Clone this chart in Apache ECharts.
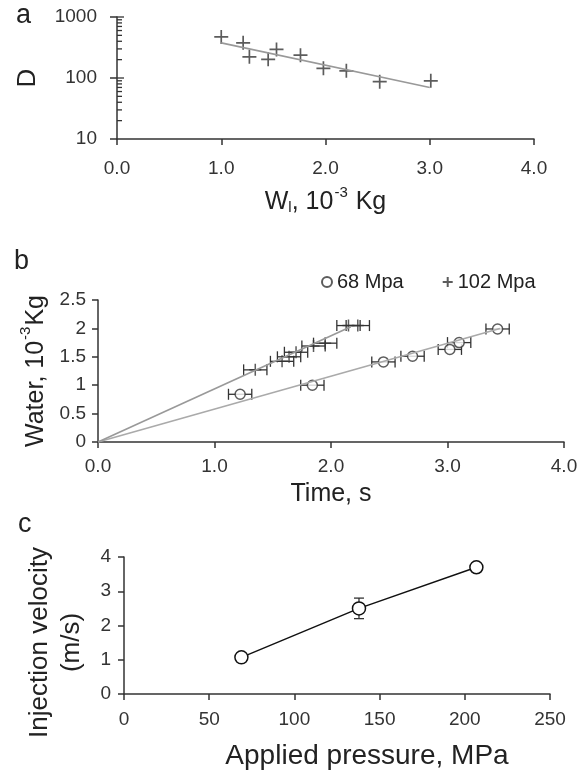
<!DOCTYPE html>
<html>
<head>
<meta charset="utf-8">
<script src="https://cdn.jsdelivr.net/npm/echarts@6/dist/echarts.min.js"></script>
<style>
html, body { margin: 0; padding: 0; background: #fff; }
#main { width: 584px; height: 770px; }
</style>
</head>
<body>
<div id="main"></div>
<script>
// panel a: D vs W_l (log y)
var wA = [1.0, 1.21, 1.27, 1.45, 1.53, 1.76, 1.98, 2.2, 2.52, 3.01];
var dA = [472, 377, 222, 202, 294, 237, 144, 131, 87, 90];
var trendA = [[1.0, 377], [3.0, 70]];
var logTicksA = [20, 30, 40, 50, 60, 70, 80, 90, 100, 200, 300, 400, 500, 600, 700, 800, 900, 1000];

// panel b: water vs time
var time68 = [1.22, 1.84, 2.45, 2.70, 3.02, 3.10, 3.43];
var water68 = [0.84, 1.0, 1.41, 1.51, 1.63, 1.75, 1.99];
var err68 = [0.1, 0.1, 0.1, 0.1, 0.1, 0.1, 0.1];
var time102 = [1.35, 1.58, 1.64, 1.70, 1.85, 1.95, 2.15, 2.23];
var water102 = [1.27, 1.42, 1.50, 1.58, 1.69, 1.74, 2.05, 2.05];
var err102 = [0.1, 0.1, 0.1, 0.1, 0.1, 0.1, 0.1, 0.1];
var trend68 = [[0, 0], [3.45, 2.0]];
var trend102 = [[0, 0], [2.17, 2.03]];

// panel c: velocity vs pressure
var pressureC = [68.9, 137.9, 206.8];
var velocityC = [1.07, 2.5, 3.7];
var errC = [0, 0.3, 0];

var FONT = 'Liberation Sans';
var INK = '#333';
var PLUS = 'path://M6,0L6,12M0,6L12,6';

function pairs(xs, ys) {
  return xs.map(function (x, i) { return [x, ys[i]]; });
}
function triples(xs, ys, es) {
  return xs.map(function (x, i) { return [x, ys[i], es[i]]; });
}

var lineSt = { stroke: INK, lineWidth: 1.3 };

function hErrBar(params, api) {
  var x = api.value(0), y = api.value(1), e = api.value(2);
  var p1 = api.coord([x - e, y]), p2 = api.coord([x + e, y]);
  var h = 5.5;
  return {
    type: 'group',
    children: [
      { type: 'line', shape: { x1: p1[0], y1: p1[1], x2: p2[0], y2: p2[1] }, style: lineSt },
      { type: 'line', shape: { x1: p1[0], y1: p1[1] - h, x2: p1[0], y2: p1[1] + h }, style: lineSt },
      { type: 'line', shape: { x1: p2[0], y1: p2[1] - h, x2: p2[0], y2: p2[1] + h }, style: lineSt }
    ]
  };
}

function vErrBar(params, api) {
  var x = api.value(0), y = api.value(1), e = api.value(2);
  if (!e) return null;
  var p1 = api.coord([x, y - e]), p2 = api.coord([x, y + e]);
  var w = 5;
  return {
    type: 'group',
    children: [
      { type: 'line', shape: { x1: p1[0], y1: p1[1], x2: p2[0], y2: p2[1] }, style: lineSt },
      { type: 'line', shape: { x1: p1[0] - w, y1: p1[1], x2: p1[0] + w, y2: p1[1] }, style: lineSt },
      { type: 'line', shape: { x1: p2[0] - w, y1: p2[1], x2: p2[0] + w, y2: p2[1] }, style: lineSt }
    ]
  };
}

// inward log ticks on panel a y axis
function logTick(params, api) {
  var v = api.value(1);
  var p = api.coord([0, v]);
  var len = (v === 100 || v === 1000) ? 7 : 5;
  return { type: 'line', shape: { x1: p[0], y1: p[1], x2: p[0] + len, y2: p[1] }, style: lineSt };
}

var axisLine = { show: true, lineStyle: { color: INK, width: 1.5 } };
var axisTick = { show: true, length: 6, lineStyle: { color: INK, width: 1.5 } };
var lbl = { color: INK, fontSize: 19, fontFamily: FONT };
var nameSt = {
  color: '#222', fontSize: 25, fontFamily: FONT,
  rich: {
    t: { fontSize: 25, fontFamily: FONT, color: '#222', lineHeight: 30, verticalAlign: 'bottom' },
    sup: { fontSize: 15, fontFamily: FONT, color: '#222', lineHeight: 30, verticalAlign: 'top', padding: [0, 1, 0, 1] },
    sub: { fontSize: 15, fontFamily: FONT, color: '#222', lineHeight: 24, verticalAlign: 'bottom' }
  }
};

var chart = echarts.init(document.getElementById('main'), null, { renderer: 'canvas' });

var option = {
  animation: false,
  textStyle: { fontFamily: FONT },
  graphic: [
    { type: 'text', left: 16, top: 2, style: { text: 'a', fontSize: 27, fontFamily: FONT, fill: '#222' } },
    { type: 'text', left: 14, top: 248, style: { text: 'b', fontSize: 27, fontFamily: FONT, fill: '#222' } },
    { type: 'text', left: 18, top: 511, style: { text: 'c', fontSize: 27, fontFamily: FONT, fill: '#222' } }
  ],
  legend: {
    left: 316, top: 267,
    itemWidth: 10, itemHeight: 10, itemGap: 38,
    textStyle: { fontSize: 20, color: '#222', fontFamily: FONT },
    data: [
      { name: '68 Mpa', icon: 'circle' },
      { name: '102 Mpa', icon: PLUS }
    ]
  },
  grid: [
    { left: 117, top: 17, width: 417, height: 122, outerBoundsMode: 'none' },
    { left: 98, top: 300, width: 466, height: 142, outerBoundsMode: 'none' },
    { left: 124, top: 557, width: 426, height: 137, outerBoundsMode: 'none' }
  ],
  xAxis: [
    {
      gridIndex: 0, type: 'value', min: 0, max: 4, interval: 1,
      axisLine: axisLine, axisTick: axisTick, splitLine: { show: false },
      axisLabel: Object.assign({ margin: 20, formatter: function (v) { return v.toFixed(1); } }, lbl),
      name: '{t|W}{sub|l}{t|, 10}{sup|-3}{t| Kg}', nameLocation: 'middle', nameGap: 46,
      nameTextStyle: nameSt
    },
    {
      gridIndex: 1, type: 'value', min: 0, max: 4, interval: 1,
      axisLine: axisLine, axisTick: axisTick, splitLine: { show: false },
      axisLabel: Object.assign({ margin: 15, formatter: function (v) { return v.toFixed(1); } }, lbl),
      name: 'Time, s', nameLocation: 'middle', nameGap: 40,
      nameTextStyle: nameSt
    },
    {
      gridIndex: 2, type: 'value', min: 0, max: 250, interval: 50,
      axisLine: axisLine, axisTick: axisTick, splitLine: { show: false },
      axisLabel: Object.assign({ margin: 16 }, lbl),
      name: 'Applied pressure, MPa', nameLocation: 'middle', nameGap: 48,
      nameTextStyle: { color: '#222', fontSize: 28, fontFamily: FONT, padding: [0, 0, 0, 60] }
    }
  ],
  yAxis: [
    {
      gridIndex: 0, type: 'log', logBase: 10, min: 10, max: 1000,
      axisLine: axisLine, axisTick: { show: true, length: 7, lineStyle: { color: INK, width: 1.5 } },
      splitLine: { show: false },
      axisLabel: Object.assign({ margin: 20, formatter: function (v) { return String(v); } }, lbl),
      name: 'D', nameLocation: 'middle', nameGap: 76,
      nameTextStyle: { color: '#222', fontSize: 26, fontFamily: FONT }
    },
    {
      gridIndex: 1, type: 'value', min: 0, max: 2.5, interval: 0.5,
      axisLine: axisLine, axisTick: axisTick, splitLine: { show: false },
      axisLabel: Object.assign({ margin: 12 }, lbl),
      name: '{t|Water, 10}{sup|-3}{t|Kg}', nameLocation: 'middle', nameGap: 46,
      nameTextStyle: nameSt
    },
    {
      gridIndex: 2, type: 'value', min: 0, max: 4, interval: 1,
      axisLine: axisLine, axisTick: axisTick, splitLine: { show: false },
      axisLabel: Object.assign({ margin: 13 }, lbl),
      name: 'Injection velocity\n(m/s)', nameLocation: 'middle', nameGap: 36,
      nameTextStyle: { color: '#222', fontSize: 26, fontFamily: FONT, lineHeight: 32, padding: [0, 34, 0, 0] }
    }
  ],
  series: [
    // panel a
    {
      type: 'custom', xAxisIndex: 0, yAxisIndex: 0, silent: true, clip: false,
      renderItem: logTick, data: logTicksA.map(function (v) { return [0, v]; })
    },
    {
      type: 'line', xAxisIndex: 0, yAxisIndex: 0, data: trendA, showSymbol: false,
      lineStyle: { color: '#999', width: 1.6 }, silent: true
    },
    {
      type: 'scatter', name: 'D', xAxisIndex: 0, yAxisIndex: 0, data: pairs(wA, dA),
      symbol: PLUS, symbolSize: 14,
      itemStyle: { color: 'transparent', borderColor: INK, borderWidth: 1.7 }
    },
    // panel b
    {
      type: 'line', xAxisIndex: 1, yAxisIndex: 1, data: trend68, showSymbol: false,
      lineStyle: { color: '#aaa', width: 1.6 }, silent: true
    },
    {
      type: 'line', xAxisIndex: 1, yAxisIndex: 1, data: trend102, showSymbol: false,
      lineStyle: { color: '#999', width: 1.6 }, silent: true
    },
    {
      type: 'custom', xAxisIndex: 1, yAxisIndex: 1, silent: true,
      renderItem: hErrBar, data: triples(time68, water68, err68)
    },
    {
      type: 'custom', xAxisIndex: 1, yAxisIndex: 1, silent: true,
      renderItem: hErrBar, data: triples(time102, water102, err102)
    },
    {
      type: 'scatter', name: '68 Mpa', xAxisIndex: 1, yAxisIndex: 1, data: pairs(time68, water68),
      symbol: 'circle', symbolSize: 10,
      itemStyle: { color: '#fff', borderColor: INK, borderWidth: 1.5 }
    },
    {
      type: 'scatter', name: '102 Mpa', xAxisIndex: 1, yAxisIndex: 1, data: pairs(time102, water102),
      symbol: PLUS, symbolSize: 12,
      itemStyle: { color: 'transparent', borderColor: INK, borderWidth: 1.5 }
    },
    // panel c
    {
      type: 'custom', xAxisIndex: 2, yAxisIndex: 2, silent: true,
      renderItem: vErrBar, data: triples(pressureC, velocityC, errC)
    },
    {
      type: 'line', xAxisIndex: 2, yAxisIndex: 2, data: pairs(pressureC, velocityC),
      symbol: 'circle', symbolSize: 13, showSymbol: true, z: 5,
      lineStyle: { color: '#111', width: 1.5 },
      itemStyle: { color: '#fff', borderColor: '#111', borderWidth: 1.5 }
    }
  ]
};

chart.setOption(option);
</script>
</body>
</html>
